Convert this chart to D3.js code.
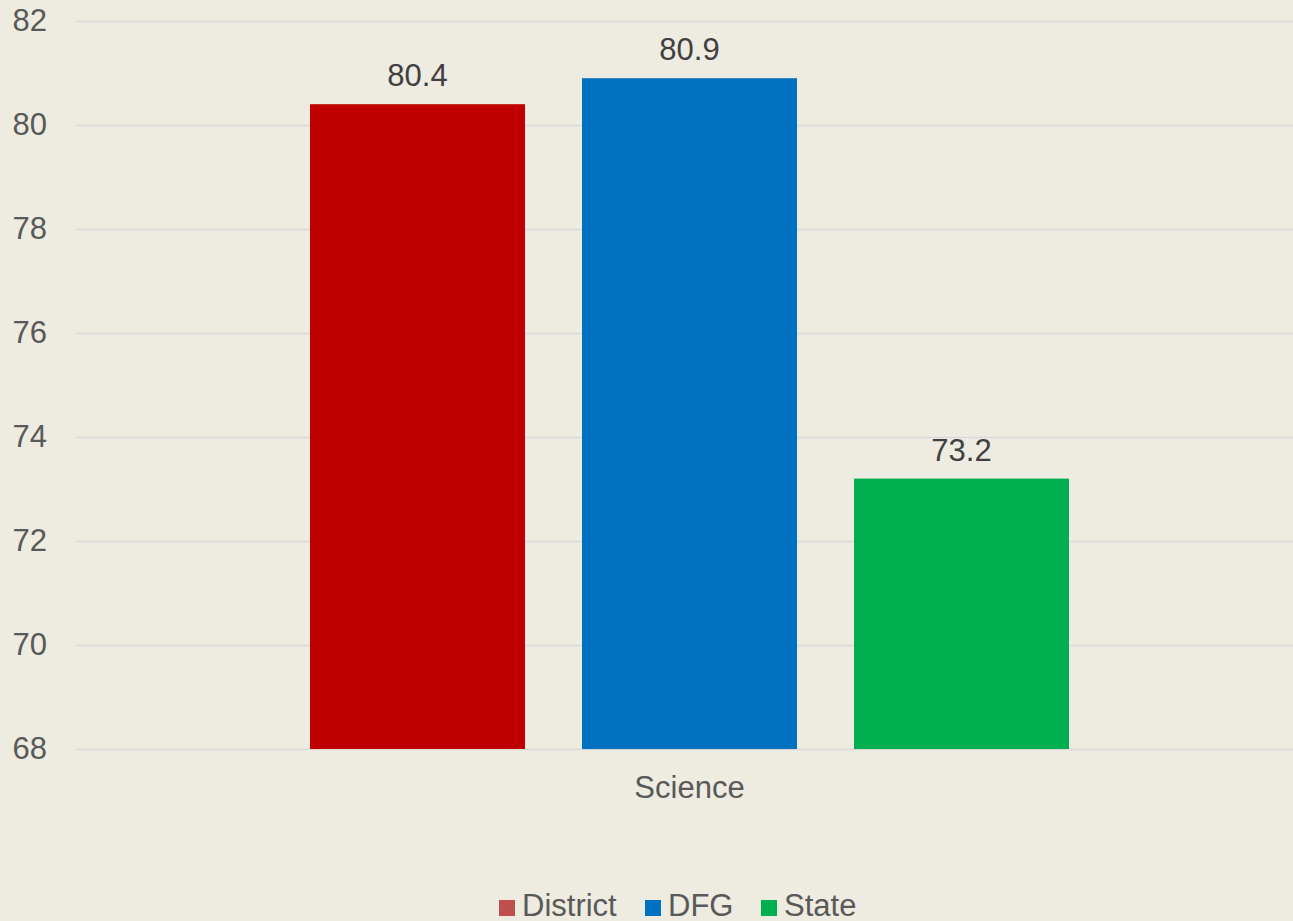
<!DOCTYPE html>
<html>
<head>
<meta charset="utf-8">
<script src="https://cdn.jsdelivr.net/npm/d3@7"></script>
<style>
  html, body { margin: 0; padding: 0; background: #EEEBE0; }
  svg { display: block; font-family: "Liberation Sans", Arial, sans-serif; }
</style>
</head>
<body>
<div class="container"></div>
<script>
var width = 1293;
var height = 921;

var categories = ['Science'];
var seriesNames = ['District', 'DFG', 'State'];
var seriesValues = [80.4, 80.9, 73.2];
var barColors = ['#C00000', '#0070C0', '#00B050'];
var legendColors = ['#C0504D', '#0070C0', '#00B050'];
var yTicks = [68, 70, 72, 74, 76, 78, 80, 82];

var plotLeft = 76;
var plotRight = 1303;
var plotTop = 21;
var plotBottom = 749;

var XScale = d3.scaleBand()
    .domain(categories)
    .range([plotLeft, plotRight]);

var innerX = d3.scaleBand()
    .domain(seriesNames)
    .range([234, 234 + 759])
    .paddingInner(57 / 272);

var YScale = d3.scaleLinear()
    .domain([68, 82])
    .range([plotBottom, plotTop]);

var svg = d3.select('.container').append('svg')
    .attr('width', width)
    .attr('height', height);

// gridlines
var yAxis = d3.axisLeft(YScale)
    .tickValues(yTicks)
    .tickSize(-(width - plotLeft))
    .tickPadding(29)
    .tickFormat(d3.format('d'));

var yg = svg.append('g')
    .attr('transform', 'translate(' + plotLeft + ',0)')
    .call(yAxis);
yg.select('.domain').remove();
yg.selectAll('.tick line').attr('stroke', '#D9D9D9').attr('stroke-width', 1.5);
yg.selectAll('.tick text')
    .attr('fill', '#595959')
    .attr('font-size', 31)
    .attr('font-family', '"Liberation Sans", Arial, sans-serif');

// category label
var xAxis = d3.axisBottom(XScale).tickSize(0).tickPadding(0);
var xg = svg.append('g')
    .attr('transform', 'translate(0,' + plotBottom + ')')
    .call(xAxis);
xg.select('.domain').remove();
xg.selectAll('.tick text')
    .attr('y', 49)
    .attr('dy', 0)
    .attr('fill', '#595959')
    .attr('font-size', 31)
    .attr('font-family', '"Liberation Sans", Arial, sans-serif');

// bars
var rows = seriesNames.map(function(name, i) {
    return {name: name, value: seriesValues[i], color: barColors[i]};
});

var chart = svg.append('g').attr('transform', 'translate(' + XScale(categories[0]) + ',0)');

chart.selectAll('rect').data(rows).enter().append('rect')
    .attr('x', function(d) { return innerX(d.name); })
    .attr('y', function(d) { return YScale(d.value); })
    .attr('width', innerX.bandwidth())
    .attr('height', function(d) { return YScale(68) - YScale(d.value); })
    .attr('fill', function(d) { return d.color; });

chart.selectAll('text.label').data(rows).enter().append('text')
    .attr('class', 'label')
    .attr('x', function(d) { return innerX(d.name) + innerX.bandwidth() / 2; })
    .attr('y', function(d) { return YScale(d.value) - 18; })
    .attr('text-anchor', 'middle')
    .attr('fill', '#404040')
    .attr('font-size', 31)
    .text(function(d) { return d.value.toFixed(1); });

// legend
var legendX = [499, 645, 761];
var legend = svg.append('g');
var items = legend.selectAll('g').data(seriesNames).enter().append('g')
    .attr('transform', function(d, i) { return 'translate(' + legendX[i] + ',900)'; });
items.append('rect')
    .attr('width', 16)
    .attr('height', 16)
    .attr('fill', function(d, i) { return legendColors[i]; });
items.append('text')
    .attr('x', 23)
    .attr('y', 16)
    .attr('fill', '#595959')
    .attr('font-size', 31)
    .text(function(d) { return d; });
</script>
</body>
</html>
